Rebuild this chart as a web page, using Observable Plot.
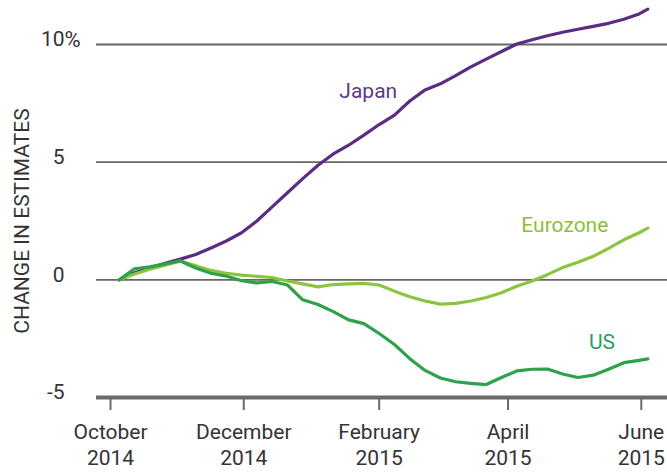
<!DOCTYPE html>
<html><head><meta charset="utf-8">
<script src="https://cdn.jsdelivr.net/npm/d3@7"></script>
<script src="https://cdn.jsdelivr.net/npm/@observablehq/plot@0.6"></script>
<style>body{margin:0;background:#fff;overflow:hidden}</style>
</head><body><div id="chart"></div>
<script>
const dates = ["2014-10-05","2014-10-12","2014-10-19","2014-10-26","2014-11-02","2014-11-09","2014-11-16","2014-11-23","2014-11-30",
  "2014-12-07","2014-12-14","2014-12-21","2014-12-28","2015-01-04","2015-01-11","2015-01-18","2015-01-25",
  "2015-02-01","2015-02-08","2015-02-15","2015-02-22","2015-03-01","2015-03-08","2015-03-15","2015-03-22","2015-03-29",
  "2015-04-05","2015-04-12","2015-04-19","2015-04-26","2015-05-03","2015-05-10","2015-05-17","2015-05-24","2015-05-31","2015-06-04"];
const japan = [0,0.3,0.5,0.7,0.88,1.08,1.35,1.65,2.0,2.5,3.1,3.7,4.3,4.87,5.35,5.72,6.15,6.6,7.0,7.6,8.07,8.33,8.68,9.05,9.38,9.7,10.02,10.2,10.37,10.52,10.65,10.77,10.9,11.07,11.3,11.5];
const eurozone = [0,0.25,0.45,0.62,0.8,0.6,0.4,0.28,0.2,0.15,0.1,-0.05,-0.17,-0.3,-0.2,-0.17,-0.15,-0.22,-0.48,-0.72,-0.9,-1.03,-1.0,-0.9,-0.75,-0.55,-0.27,-0.05,0.22,0.52,0.75,1.0,1.34,1.7,2.0,2.2];
const us = [0,0.47,0.55,0.68,0.8,0.5,0.28,0.16,-0.04,-0.13,-0.07,-0.22,-0.85,-1.05,-1.35,-1.7,-1.86,-2.28,-2.75,-3.35,-3.85,-4.17,-4.33,-4.4,-4.45,-4.15,-3.87,-3.8,-3.79,-4.0,-4.15,-4.05,-3.8,-3.52,-3.42,-3.36];

const seriesNames = ["Japan", "Eurozone", "US"];
const seriesValues = [japan, eurozone, us];
const seriesColors = ["#5b2c83", "#8cc43f", "#2ca24a"];
const labelColors = ["#5e3a86", "#8bbf3a", "#2f9e62"];
const labelDates = ["2015-01-27", "2015-04-27", "2015-05-14"];
const labelValues = [8.0, 2.3, -2.64];

const xTickDates = ["2014-10-01", "2014-12-01", "2015-02-01", "2015-04-01", "2015-06-01"];
const xTickLabels = ["October\n2014", "December\n2014", "February\n2015", "April\n2015", "June\n2015"];
const yTicks = [10, 5, 0, -5];
const yTickLabels = ["10", "5", "0", "-5"];
const yTitle = "CHANGE IN ESTIMATES";

const parse = d3.utcParse("%Y-%m-%d");
const rows = [];
seriesNames.forEach((name, s) => dates.forEach((d, i) => rows.push({date: parse(d), value: seriesValues[s][i], series: name})));
const labels = seriesNames.map((name, i) => ({name, date: parse(labelDates[i]), value: labelValues[i]}));
const tickDates = xTickDates.map(parse);
const tickMap = new Map(tickDates.map((d, i) => [+d, xTickLabels[i]]));
const font = "Roboto, 'Liberation Sans', Arial, sans-serif";

const chart = Plot.plot({
  width: 667, height: 473,
  marginLeft: 96, marginRight: 0, marginTop: 44, marginBottom: 76,
  style: {fontFamily: font, color: "#333", background: "#fff", overflow: "visible"},
  x: {type: "utc", domain: [new Date(Date.UTC(2014, 8, 24, 14)), new Date(Date.UTC(2015, 5, 13))], axis: null},
  y: {domain: [-5, 10], axis: null},
  color: {domain: seriesNames, range: seriesColors},
  marks: [
    Plot.ruleY([0, 5, 10], {stroke: "#666", strokeWidth: 1.8}),
    Plot.ruleY([-5], {stroke: "#6a6a6a", strokeWidth: 4}),
    Plot.axisX(tickDates, {tickSize: 13, tickPadding: 11, stroke: "#6a6a6a", strokeWidth: 2,
      tickFormat: d => tickMap.get(+d), fontSize: 21, lineHeight: 1.2, fill: "#333", fontFamily: font}),
    Plot.text(yTicks, {y: d => d, text: (d, i) => yTickLabels[i], frameAnchor: "left", textAnchor: "end", dx: -32, dy: -5, fontSize: 21, fill: "#333"}),
    Plot.text([10], {y: d => d, text: () => "%", frameAnchor: "left", textAnchor: "start", dx: -32, dy: -5, fontSize: 22, fill: "#333"}),
    Plot.text([yTitle], {frameAnchor: "left", textAnchor: "middle", rotate: -90, dx: -74, fontSize: 21, fill: "#333"}),
    Plot.line(rows, {x: "date", y: "value", z: "series", stroke: "series", strokeWidth: 3.2, curve: "linear"}),
    Plot.text(labels, {x: "date", y: "value", text: "name", fill: (d, i) => labelColors[i], fontSize: 21})
  ]
});
document.getElementById("chart").appendChild(chart);
</script>
</body></html>
